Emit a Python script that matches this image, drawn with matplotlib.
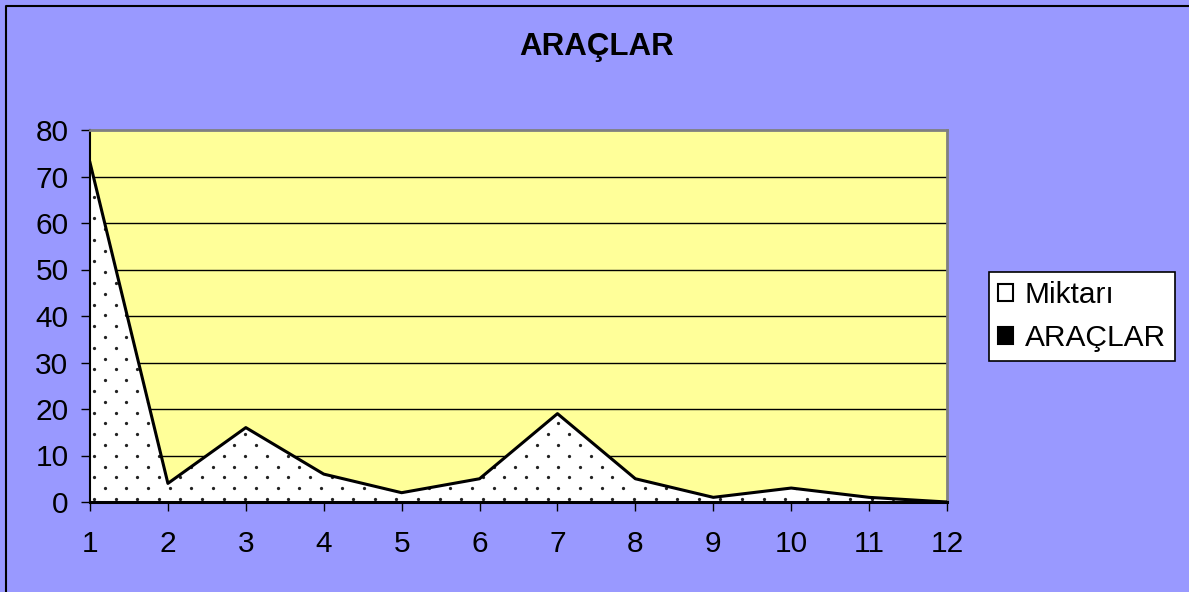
import matplotlib
matplotlib.use("Agg")
import matplotlib.pyplot as plt
import numpy as np
from matplotlib.patches import Patch
from matplotlib.lines import Line2D

plt.rcParams['font.family'] = ['Liberation Sans', 'DejaVu Sans']

categories = [1, 2, 3, 4, 5, 6, 7, 8, 9, 10, 11, 12]
araclar = [73, 4, 16, 6, 2, 5, 19, 5, 1, 3, 1, 0]
yticks = [0, 10, 20, 30, 40, 50, 60, 70, 80]
title = "ARAÇLAR"
legend_labels = ["Miktarı", "ARAÇLAR"]

W, H = 1189, 592
L, R, T, B = 90, 947, 130, 502
fig = plt.figure(figsize=(W / 100, H / 100), dpi=100, facecolor="#9999FF")
ax = fig.add_axes([L / W, 1 - B / H, (R - L) / W, (B - T) / H])
ax.set_facecolor("#FFFF99")

ax.set_xlim(categories[0], categories[-1])
ax.set_ylim(yticks[0], yticks[-1])

poly = ax.fill_between(categories, araclar, 0, facecolor="white",
                       linewidth=0, zorder=2)

# dotted texture (staggered lattice in pixel space), clipped to the area
step = 10.8
px_x = np.arange(L + 4, R, step)
px_y = np.arange(B - 3, T, -step)
gx, gy = np.meshgrid(px_x, px_y)
ix, iy = np.meshgrid(np.arange(len(px_x)), np.arange(len(px_y)))
mask = (ix + iy) % 2 == 0
fig.canvas.draw()
inv = ax.transData.inverted()
disp = np.column_stack([gx[mask], (H - gy[mask])])
pts = inv.transform(disp)
sc = ax.scatter(pts[:, 0], pts[:, 1], s=5.5, marker="o", color="#222222",
                linewidths=0, zorder=2.5)
sc.set_clip_path(poly.get_paths()[0], ax.transData)

ax.plot(categories, araclar, color="black", lw=2.2, zorder=3)

ax.set_xticks(categories)
ax.set_yticks(yticks)
for y in yticks[1:-1]:
    ax.axhline(y, color="black", lw=1.0, zorder=1)

ax.tick_params(axis="both", direction="out", length=6.5, width=1, colors="black",
               labelsize=21.5)
ax.tick_params(axis="y", pad=9)
ax.tick_params(axis="x", pad=14)

ax.spines["left"].set_linewidth(1.5)
ax.spines["bottom"].set_linewidth(2.2)
ax.spines["bottom"].set_zorder(4)
for s in ("top", "right"):
    ax.spines[s].set_color("#808080")
    ax.spines[s].set_linewidth(2)

fig.text(597 / W, 1 - 47 / H, title, ha="center", va="center",
         fontsize=22.5, fontweight="bold")

handles = [
    Patch(facecolor="white", edgecolor="black", linewidth=1.5),
    Patch(facecolor="black", edgecolor="black", linewidth=1.5),
]
leg = fig.legend(handles, legend_labels, loc="upper left",
                 bbox_to_anchor=(989 / W, 1 - 272 / H), fontsize=21.5,
                 frameon=True, fancybox=False, edgecolor="black",
                 framealpha=1, handlelength=0.5, handleheight=0.5,
                 handletextpad=0.4, borderpad=0.3, labelspacing=0.5,
                 borderaxespad=0)
leg.get_frame().set_linewidth(1.2)

fig.add_artist(Line2D([6 / W, 6 / W, 1.0], [0.0, 1 - 6 / H, 1 - 6 / H],
                      transform=fig.transFigure, color="black", lw=1.5))

fig.savefig("out.png", dpi=100, facecolor=fig.get_facecolor())
